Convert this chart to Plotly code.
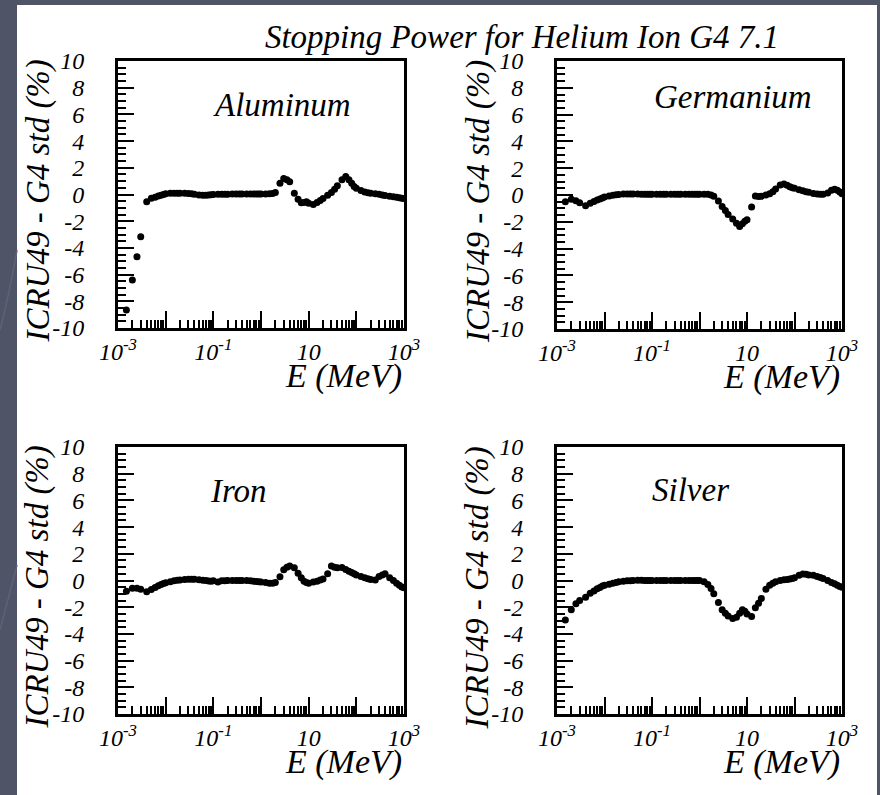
import plotly.graph_objects as go

# ---------------- data ----------------
E_MEV = [0.0015, 0.002, 0.0025, 0.003, 0.004, 0.005, 0.006, 0.007, 0.008, 0.009,
         0.01, 0.0125, 0.015, 0.0175, 0.02, 0.025, 0.03, 0.035, 0.04, 0.05, 0.06, 0.07, 0.08, 0.09,
         0.1, 0.125, 0.15, 0.175, 0.2, 0.25, 0.3, 0.35, 0.4, 0.5, 0.6, 0.7, 0.8, 0.9,
         1, 1.25, 1.5, 1.75, 2, 2.5, 3, 3.5, 4, 5, 6, 7, 8, 9,
         10, 12.5, 15, 17.5, 20, 25, 30, 35, 40, 50, 60, 70, 80, 90,
         100, 125, 150, 175, 200, 250, 300, 350, 400, 500, 600, 700, 800, 900, 1000]

ALUMINUM = [-8.65, -6.4, -4.66, -3.16, -0.54, -0.29, -0.2, -0.12, -0.05, 0.0,
            0.05, 0.09, 0.1, 0.1, 0.1, 0.09, 0.08, 0.05, 0.01, -0.03, -0.06, -0.05, -0.03, -0.01,
            0.0, 0.01, 0.02, 0.02, 0.02, 0.03, 0.04, 0.04, 0.04, 0.04, 0.04, 0.04, 0.04, 0.04,
            0.04, 0.04, 0.05, 0.08, 0.15, 0.84, 1.2, 1.1, 0.95, 0.1, -0.35, -0.62, -0.6, -0.55,
            -0.65, -0.75, -0.6, -0.45, -0.3, -0.05, 0.15, 0.4, 0.65, 1.1, 1.35, 1.1, 0.85, 0.6,
            0.46, 0.3, 0.18, 0.14, 0.1, 0.05, 0.02, -0.03, -0.08, -0.13, -0.17, -0.2, -0.25, -0.28, -0.3]

GERMANIUM = [-0.5, -0.32, -0.42, -0.57, -0.8, -0.62, -0.48, -0.38, -0.3, -0.22,
             -0.15, -0.08, -0.02, 0.01, 0.04, 0.07, 0.08, 0.08, 0.08, 0.07, 0.06, 0.05, 0.05, 0.05,
             0.05, 0.05, 0.05, 0.05, 0.05, 0.05, 0.05, 0.05, 0.05, 0.05, 0.05, 0.05, 0.05, 0.05,
             0.05, 0.05, 0.05, 0.0, -0.1, -0.45, -0.85, -1.15, -1.45, -1.8, -2.1, -2.35, -2.15, -1.95,
             -1.85, -0.9, -0.07, -0.12, -0.1, 0.0, 0.1, 0.25, 0.45, 0.75, 0.82, 0.72, 0.62, 0.55,
             0.5, 0.4, 0.32, 0.25, 0.2, 0.12, 0.07, 0.05, 0.05, 0.15, 0.35, 0.42, 0.35, 0.22, 0.1]

IRON = [-0.8, -0.58, -0.58, -0.65, -0.85, -0.68, -0.52, -0.4, -0.3, -0.22,
        -0.17, -0.09, -0.02, 0.01, 0.04, 0.08, 0.1, 0.1, 0.1, 0.06, 0.02, 0.0, -0.03, -0.05,
        -0.02, -0.12, -0.02, -0.01, 0.0, 0.0, 0.0, 0.0, 0.0, 0.0, -0.02, -0.05, -0.07, -0.1,
        -0.12, -0.15, -0.2, -0.2, -0.15, 0.28, 0.8, 1.0, 1.08, 0.95, 0.55, 0.2, -0.05, -0.15,
        -0.2, -0.12, -0.05, 0.03, 0.12, 0.5, 1.08, 1.0, 0.95, 0.98, 0.82, 0.7, 0.6, 0.5,
        0.42, 0.3, 0.2, 0.14, 0.08, 0.04, 0.3, 0.42, 0.5, 0.2, 0.0, -0.2, -0.35, -0.48, -0.55]

SILVER = [-2.95, -2.2, -1.75, -1.5, -1.25, -0.95, -0.78, -0.62, -0.52, -0.42,
          -0.36, -0.28, -0.2, -0.15, -0.1, -0.05, -0.02, -0.01, 0.0, 0.02, 0.02, 0.0, 0.0, 0.0,
          0.0, 0.0, 0.0, 0.0, 0.0, 0.0, 0.0, 0.0, 0.0, 0.0, 0.0, 0.0, 0.0, 0.0,
          0.0, -0.1, -0.3, -0.6, -1.0, -1.65, -2.2, -2.45, -2.65, -2.85, -2.75, -2.45, -2.2, -2.3,
          -2.5, -2.7, -2.05, -1.7, -1.35, -0.65, -0.35, -0.2, -0.1, 0.0, 0.05, 0.08, 0.12, 0.15,
          0.2, 0.4, 0.48, 0.47, 0.42, 0.4, 0.3, 0.22, 0.15, 0.0, -0.15, -0.25, -0.35, -0.45, -0.5]

MATERIALS = ["Aluminum", "Germanium", "Iron", "Silver"]
SERIES = [ALUMINUM, GERMANIUM, IRON, SILVER]

TITLE = "Stopping Power for Helium Ion G4 7.1"
Y_TITLE = "ICRU49 - G4 std (%)"
X_TITLE = "E (MeV)"

X_LABEL_VALS = [0.001, 0.1, 10, 1000]
X_LABEL_TEXT = ["10<sup>-3</sup>", "10<sup>-1</sup>", "10", "10<sup>3</sup>"]
X_UNLABELED_DECADES = [0.01, 1, 100]
Y_TICKVALS = [10, 8, 6, 4, 2, 0, -2, -4, -6, -8, -10]
Y_TICKTEXT = ["10", "8", "6", "4", "2", "0", "-2", "-4", "-6", "-8", "-10"]

# ---------------- layout geometry ----------------
W, H = 880, 795
FONT = "Liberation Serif, Times New Roman, DejaVu Serif, serif"
FRAMES = [(118, 404, 61, 328), (557, 842, 61, 329),
          (118, 404, 447, 714), (557, 842, 447, 714)]
LABEL_POS = [(0.573, 0.835), (0.618, 0.866), (0.42, 0.835), (0.47, 0.839)]
YTITLE_X = [38, 479, 37, 477]

minor_x = [k * 10.0 ** n for n in range(-3, 3) for k in range(2, 10)]


def tfont(size):
    return dict(family=FONT, size=size, color="black", style="italic")


fig = go.Figure()
ann = []
for i, (name, ys) in enumerate(zip(MATERIALS, SERIES)):
    sfx = "" if i == 0 else str(i + 1)
    osfx = str(i + 5)
    fig.add_trace(go.Scatter(
        x=E_MEV, y=ys, mode="markers",
        marker=dict(color="black", size=7, line=dict(width=0)),
        xaxis="x" + sfx, yaxis="y" + sfx, showlegend=False, name=name))
    # empty trace so the overlay axis (unlabelled decade ticks) gets drawn
    fig.add_trace(go.Scatter(x=[None], y=[None], mode="markers", xaxis="x" + osfx,
                             yaxis="y" + sfx, showlegend=False, hoverinfo="skip"))
    l, r, t, b = FRAMES[i]
    xd = [l / W, r / W]
    yd = [1 - b / H, 1 - t / H]
    fig.layout["xaxis" + sfx] = dict(
        domain=xd, anchor="y" + sfx, type="log", range=[-3, 3], automargin=False,
        showline=True, linewidth=3, linecolor="black", mirror=True,
        showgrid=False, zeroline=False,
        ticks="inside", ticklen=17, tickwidth=2, tickcolor="black",
        tickmode="array", tickvals=X_LABEL_VALS, ticktext=X_LABEL_TEXT,
        tickfont=tfont(24),
        minor=dict(ticks="inside", ticklen=8, tickwidth=2, tickcolor="black",
                   tickmode="array", tickvals=minor_x, showgrid=False),
    )
    fig.layout["xaxis" + osfx] = dict(
        overlaying="x" + sfx, anchor="y" + sfx, type="log", range=[-3, 3], automargin=False,
        showline=False, showgrid=False, zeroline=False, showticklabels=False,
        ticks="inside", ticklen=17, tickwidth=2, tickcolor="black",
        tickmode="array", tickvals=X_UNLABELED_DECADES,
    )
    fig.layout["yaxis" + sfx] = dict(
        domain=yd, anchor="x" + sfx, range=[-10, 10], automargin=False,
        showline=True, linewidth=3, linecolor="black", mirror=True,
        showgrid=False, zeroline=False,
        ticks="inside", ticklen=16, tickwidth=2, tickcolor="black",
        tickmode="array", tickvals=Y_TICKVALS, ticktext=Y_TICKTEXT,
        tickfont=tfont(24), ticklabelstandoff=26,
        minor=dict(ticks="inside", ticklen=8, tickwidth=2, tickcolor="black",
                   dtick=0.5, tick0=0, showgrid=False),
    )
    lx, ly = LABEL_POS[i]
    ann.append(dict(text=name, xref="x" + sfx + " domain", yref="y" + sfx + " domain",
                    x=lx, y=ly, xanchor="center", yanchor="middle", showarrow=False,
                    font=tfont(33)))
    ann.append(dict(text=X_TITLE, xref="x" + sfx + " domain", yref="y" + sfx + " domain",
                    x=1.0, y=-0.18, xanchor="right", yanchor="middle", showarrow=False,
                    font=tfont(34)))
    ann.append(dict(text=Y_TITLE, xref="paper", yref="y" + sfx + " domain",
                    x=YTITLE_X[i] / W, y=0.474, xanchor="center", yanchor="middle",
                    textangle=-90, showarrow=False, font=tfont(33)))

shapes = [
    dict(type="rect", xref="paper", yref="paper", x0=17 / W, x1=877 / W, y0=0, y1=1 - 5 / H,
         fillcolor="white", line=dict(width=0), layer="below"),
    dict(type="path", xref="paper", yref="paper",
         path=f"M 0 {1-330/H} Q {8/W} {1-300/H} {17/W} {1-250/H}",
         line=dict(color="#5e6276", width=1.5), layer="below"),
    dict(type="path", xref="paper", yref="paper",
         path=f"M 0 {1-630/H} Q {8/W} {1-600/H} {17/W} {1-565/H}",
         line=dict(color="#5e6276", width=1.5), layer="below"),
]

fig.update_layout(
    width=W, height=H, autosize=False,
    margin=dict(l=0, r=0, t=0, b=0, autoexpand=False),
    paper_bgcolor="#505467", plot_bgcolor="rgba(0,0,0,0)",
    title=dict(text=TITLE, x=522 / W, xanchor="center", y=1 - 36 / H, yanchor="middle",
               font=tfont(33)),
    annotations=ann, shapes=shapes,
)

fig.write_html("out.html")
